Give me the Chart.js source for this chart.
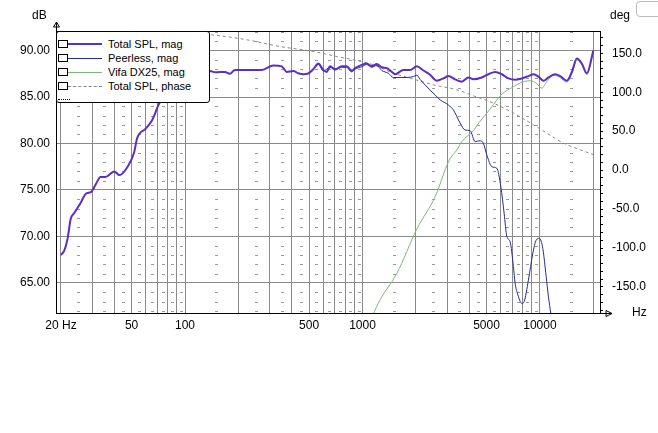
<!DOCTYPE html>
<html>
<head>
<meta charset="utf-8">
<script src="https://cdn.jsdelivr.net/npm/chart.js@4.4.1/dist/chart.umd.min.js"></script>
<style>
  body { margin: 0; background: #fff; }
  #wrap { position: relative; width: 658px; height: 433px; font-family: 'Liberation Sans', Arial, sans-serif; color: #000; }
  #legend { position: absolute; left: 56px; top: 31px; width: 152px; height: 70px; background: #fff; border: 1px solid #000; border-radius: 3px; font-size: 11px; }
  .row { position: absolute; left: 0; width: 150px; height: 14px; }
  .box { position: absolute; left: 1px; top: 3px; width: 8px; height: 6px; border: 1px solid #000; }
  .swatch { position: absolute; left: 11px; width: 34px; top: 7px; height: 0; }
  .lbl { position: absolute; left: 51px; top: 0; line-height: 14px; white-space: nowrap; }
  .axt { position: absolute; font-size: 12px; line-height: 14px; }
  #corner { position: absolute; left: 636px; top: 1px; width: 24px; height: 14px; border: 1px solid #bbb; border-radius: 4px; }
</style>
</head>
<body>
<div id="wrap">
  <canvas id="fr" width="658" height="433"></canvas>
  <div class="axt" style="left:32px;top:8px">dB</div>
  <div class="axt" style="left:610px;top:8px">deg</div>
  <div class="axt" style="left:632px;top:305px">Hz</div>
  <div id="corner"></div>
  <div id="legend">
    <div class="row" style="top:5px"><div class="box"></div><div class="swatch" style="border-top:2px solid #5a2fc8;top:6px"></div><div class="lbl">Total SPL, mag</div></div>
    <div class="row" style="top:19px"><div class="box"></div><div class="swatch" style="border-top:1px solid #1f2d96"></div><div class="lbl">Peerless, mag</div></div>
    <div class="row" style="top:33px"><div class="box"></div><div class="swatch" style="border-top:1px solid #7cb87c"></div><div class="lbl">Vifa DX25, mag</div></div>
    <div class="row" style="top:47px"><div class="box"></div><div class="swatch" style="border-top:1px dashed #888"></div><div class="lbl">Total SPL, phase</div></div>
    <div style="position:absolute;left:1px;top:67px;width:12px;border-top:1px dotted #000"></div>
  </div>
</div>
<script>
'use strict';

// axis ticks
const xTicks = [20, 30, 40, 50, 60, 70, 80, 90, 100, 200, 300, 400, 500, 600, 700, 800, 900,
  1000, 2000, 3000, 4000, 5000, 6000, 7000, 8000, 9000, 10000, 20000];
const xLabelVals = [20, 50, 100, 500, 1000, 5000, 10000];
const xLabelText = ['20 Hz', '50', '100', '500', '1000', '5000', '10000'];
const minorFreqs = [25, 35, 45, 55, 65, 75, 85, 95, 150, 250, 350, 450, 550, 650, 750, 850, 950,
  1500, 2500, 3500, 4500, 5500, 6500, 7500, 8500, 9500, 15000];
const dbTicks = [65, 70, 75, 80, 85, 90];
const degTicks = [-180, -170, -160, -150, -140, -130, -120, -110, -100, -90, -80, -70, -60, -50, -40, -30,
  -20, -10, 0, 10, 20, 30, 40, 50, 60, 70, 80, 90, 100, 110, 120, 130, 140, 150, 160, 170];

// Total SPL, mag
const totalFreq = [20, 20.9, 21.8, 22.7, 23.7, 25.8, 27.6, 29.6, 31.6, 33.4, 35.6, 39.9, 42.7, 47.5,
  51.6, 53.8, 60.1, 65.2, 71.5, 80, 90, 100, 114, 121, 138, 148, 158, 168, 179, 191, 271, 315, 351,
  374, 408, 435, 464, 496, 528, 564, 602, 629, 656, 701, 764, 815, 870, 908, 990, 1057, 1128, 1204,
  1285, 1371, 1463, 1526, 1701, 1854, 2024, 2204, 2404, 2623, 2858, 3049, 3326, 3627, 3955, 4220,
  4700, 5128, 5588, 6096, 6640, 7246, 7908, 8610, 9180, 9814, 10468, 11170, 12190, 13000, 14190,
  15136, 16150, 17220, 18380, 20000];
const totalMag = [68.0, 68.5, 69.8, 71.9, 72.5, 73.6, 74.6, 74.8, 75.7, 76.4, 76.4, 77.0, 76.6, 77.5,
  79.0, 80.6, 81.6, 82.5, 84.3, 85.8, 87.0, 87.7, 88.0, 87.8, 87.8, 87.65, 87.7, 87.7, 87.5, 87.9, 87.9,
  88.4, 88.3, 87.7, 87.8, 87.55, 87.45, 87.55, 88.0, 88.6, 87.9, 87.7, 88.3, 88.0, 88.3, 88.3, 87.8,
  88.1, 88.45, 88.6, 88.3, 88.55, 88.2, 88.1, 87.7, 87.45, 87.9, 87.9, 88.3, 87.85, 87.4, 86.75, 87.0,
  87.25, 86.9, 86.65, 87.1, 86.9, 87.1, 87.45, 87.7, 87.45, 87.0, 86.85, 87.0, 87.25, 87.45, 87.2,
  86.75, 87.1, 87.45, 87.25, 86.75, 87.7, 89.15, 88.6, 87.55, 90.0];

// Peerless, mag
const peerlessFreq = [496, 528, 564, 602, 656, 701, 764, 815, 870, 908, 990, 1057, 1128, 1204, 1285,
  1400, 1494, 1629, 1778, 1936, 2024, 2112, 2254, 2404, 2570, 2738, 3049, 3254, 3550, 3788, 4042,
  4314, 4602, 4804, 5020, 5358, 5716, 6020, 6284, 6508, 6792, 7088, 7246, 7466, 7908, 8148, 8610,
  9120, 9520, 9932, 10380, 10840, 11170, 11512, 11800];
const peerlessMag = [87.5, 87.9, 88.5, 87.8, 88.2, 87.9, 88.2, 88.2, 87.7, 88.0, 88.25, 88.5, 88.2,
  88.4, 87.85, 87.55, 87.1, 87.1, 87.1, 87.2, 87.35, 86.9, 86.3, 85.75, 85.2, 84.7, 84.14, 83.6,
  82.2, 81.45, 81.38, 80.2, 80.3, 80.0, 78.76, 77.5, 77.33, 75.36, 72.5, 70.0, 69.44, 66.76, 64.97,
  63.9, 62.8, 63.0, 65.3, 68.2, 69.6, 69.8, 68.7, 65.7, 63.5, 61.74, 60.3];

// Vifa DX25, mag
const vifaFreq = [1140, 1257, 1560, 2024, 2570, 3080, 3402, 3627, 4220, 4600, 5240, 5716, 6096, 7088,
  8072, 8812, 9600, 10252, 10930, 11914, 13000, 14190, 15136, 16150, 17220, 18380, 20000];
const vifaMag = [61.5, 63.2, 66.0, 70.8, 74.3, 78.2, 79.3, 80.2, 81.4, 82.4, 83.7, 84.7, 85.3, 86.1,
  86.65, 86.75, 86.45, 85.95, 86.65, 87.35, 87.1, 86.6, 87.5, 89.0, 88.45, 87.4, 89.85];

// Total SPL, phase (deg)
const phaseFreq = [20, 100, 141, 223, 343, 528, 716, 929, 1152, 1494, 1936, 2512, 3402, 4220, 5470,
  7088, 9180, 10930, 13560, 16860, 20000];
const phaseDeg = [179, 176, 173.7, 167.3, 158.7, 152.3, 145.9, 140.7, 135.2, 124.5, 116.8, 109.5,
  103.1, 95.4, 86.0, 73.2, 58.2, 47.5, 34.7, 26.1, 20.0];

const pts = (fs, vs) => fs.map((f, i) => ({ x: f, y: vs[i] }));
const tickFont = { family: "'Liberation Sans', Arial, sans-serif", size: 12 };

const frame = {
  id: 'frame',
  beforeDatasetsDraw(chart) {
    const { ctx, scales } = chart;
    ctx.save();
    ctx.strokeStyle = '#9a9a9a';
    ctx.lineWidth = 1;
    ctx.beginPath();
    for (let db = 62; db <= 92; db++) {
      if (db % 5 === 0) continue;
      const y = Math.round(scales.y.getPixelForValue(db)) + 0.5;
      minorFreqs.forEach(f => {
        const x = Math.round(scales.x.getPixelForValue(f));
        ctx.moveTo(x - 1, y);
        ctx.lineTo(x + 2, y);
      });
    }
    ctx.stroke();
    ctx.restore();
  },
  afterDraw(chart) {
    const { ctx, chartArea: a } = chart;
    ctx.save();
    ctx.strokeStyle = '#000';
    ctx.lineWidth = 1;
    ctx.beginPath();
    // top frame
    ctx.moveTo(a.left, a.top + 0.5);
    ctx.lineTo(a.right, a.top + 0.5);
    // left axis arrow
    ctx.moveTo(a.left + 0.5, a.top);
    ctx.lineTo(a.left + 0.5, a.top - 9);
    ctx.moveTo(a.left + 0.5, a.top - 9);
    ctx.lineTo(a.left - 2.5, a.top - 4);
    ctx.lineTo(a.left + 3.5, a.top - 4);
    ctx.closePath();
    // bottom axis arrow
    ctx.moveTo(a.right, a.bottom + 0.5);
    ctx.lineTo(a.right + 12, a.bottom + 0.5);
    ctx.moveTo(a.right + 12, a.bottom + 0.5);
    ctx.lineTo(a.right + 6, a.bottom - 2.5);
    ctx.lineTo(a.right + 6, a.bottom + 3.5);
    ctx.closePath();
    ctx.stroke();
    ctx.restore();
  }
};

new Chart(document.getElementById('fr'), {
  type: 'line',
  data: {
    datasets: [{
      label: 'Total SPL, mag',
      data: pts(totalFreq, totalMag),
      borderColor: '#5a2fc8',
      borderWidth: 2,
      yAxisID: 'y'
    }, {
      label: 'Peerless, mag',
      data: pts(peerlessFreq, peerlessMag),
      borderColor: '#1f2d96',
      borderWidth: 1,
      yAxisID: 'y'
    }, {
      label: 'Vifa DX25, mag',
      data: pts(vifaFreq, vifaMag),
      borderColor: '#7cb87c',
      borderWidth: 1,
      yAxisID: 'y'
    }, {
      label: 'Total SPL, phase',
      data: pts(phaseFreq, phaseDeg),
      borderColor: '#888',
      borderWidth: 1,
      borderDash: [3, 3],
      yAxisID: 'y2'
    }]
  },
  options: {
    responsive: false,
    animation: false,
    devicePixelRatio: 1,
    layout: { padding: { top: 31, left: 0, right: 0, bottom: 0 } },
    elements: { point: { radius: 0 }, line: { cubicInterpolationMode: 'monotone' } },
    plugins: { legend: { display: false }, tooltip: { enabled: false } },
    scales: {
      x: {
        type: 'logarithmic',
        min: 18.75,
        max: 21800,
        afterBuildTicks: s => { s.ticks = xTicks.map(v => ({ value: v })); },
        afterFit: s => { s.height = 120; },
        grid: { color: '#8a8a8a', drawTicks: false },
        border: { color: '#000' },
        ticks: {
          autoSkip: false, maxRotation: 0, padding: 5, color: '#000', font: tickFont,
          callback: v => { const i = xLabelVals.indexOf(v); return i < 0 ? '' : xLabelText[i]; }
        }
      },
      y: {
        position: 'left',
        min: 61.77,
        max: 92.1,
        afterBuildTicks: s => { s.ticks = dbTicks.map(v => ({ value: v })); },
        afterFit: s => { s.width = 56; },
        grid: { color: '#8a8a8a', drawTicks: false },
        border: { color: '#000' },
        ticks: { padding: 6, color: '#000', font: tickFont, callback: v => v.toFixed(2) }
      },
      y2: {
        position: 'right',
        min: -183.4,
        max: 178.6,
        afterBuildTicks: s => { s.ticks = degTicks.map(v => ({ value: v })); },
        afterFit: s => { s.width = 58; },
        grid: { drawOnChartArea: false, color: '#000', tickLength: 3 },
        border: { color: '#000' },
        ticks: {
          autoSkip: false, padding: 9, color: '#000', font: tickFont,
          callback: v => (v % 50 === 0 ? v.toFixed(1) : '')
        }
      }
    }
  },
  plugins: [frame]
});
</script>
</body>
</html>
